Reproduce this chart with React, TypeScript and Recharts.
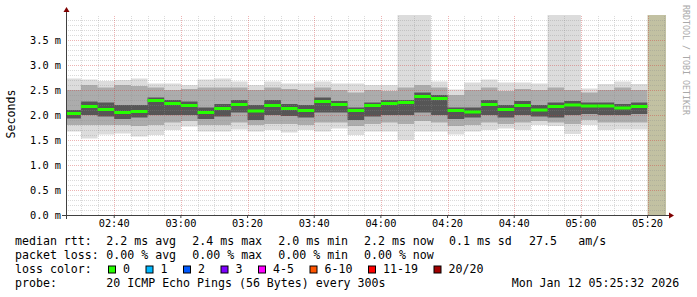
import { ComposedChart, Area, XAxis, YAxis, ReferenceLine, ReferenceArea } from 'recharts';

const FONT = '"DejaVu Sans Mono", monospace';

// 5-minute slots (start of each interval)
const slots = [
  '02:25', '02:30', '02:35', '02:40', '02:45', '02:50', '02:55', '03:00', '03:05', '03:10',
  '03:15', '03:20', '03:25', '03:30', '03:35', '03:40', '03:45', '03:50', '03:55', '04:00',
  '04:05', '04:10', '04:15', '04:20', '04:25', '04:30', '04:35', '04:40', '04:45', '04:50',
  '04:55', '05:00', '05:05', '05:10', '05:15',
];

// median rtt, ms
const median = [
  2.03, 2.17, 2.11, 2.05, 2.07, 2.29, 2.23, 2.19, 2.05, 2.13,
  2.21, 2.08, 2.19, 2.13, 2.09, 2.27, 2.21, 2.09, 2.19, 2.23,
  2.25, 2.37, 2.33, 2.09, 2.06, 2.21, 2.11, 2.19, 2.10, 2.17,
  2.20, 2.18, 2.18, 2.14, 2.17,
];

// smoke: outer / middle / inner ping ranges, ms
const pingMax = [
  2.73, 2.71, 2.68, 2.70, 2.73, 2.63, 2.63, 2.60, 2.71, 2.73,
  2.67, 2.60, 2.67, 2.63, 2.63, 2.67, 2.63, 2.63, 2.60, 2.60,
  4.6, 4.6, 2.67, 2.51, 2.65, 2.71, 2.65, 2.65, 2.63, 4.6,
  4.6, 2.53, 2.62, 2.67, 2.62,
];
const pingHi2 = [
  2.50, 2.60, 2.55, 2.60, 2.58, 2.55, 2.50, 2.52, 2.55, 2.55,
  2.55, 2.50, 2.55, 2.52, 2.50, 2.55, 2.50, 2.45, 2.50, 2.48,
  2.55, 2.60, 2.55, 2.40, 2.50, 2.55, 2.48, 2.52, 2.50, 2.55,
  2.50, 2.45, 2.50, 2.55, 2.50,
];
const pingHi1 = [
  2.10, 2.27, 2.25, 2.20, 2.20, 2.35, 2.30, 2.27, 2.15, 2.22,
  2.30, 2.20, 2.30, 2.22, 2.20, 2.35, 2.28, 2.15, 2.25, 2.30,
  2.30, 2.45, 2.40, 2.15, 2.15, 2.30, 2.20, 2.28, 2.20, 2.25,
  2.28, 2.25, 2.25, 2.22, 2.25,
];
const pingLo1 = [
  1.93, 2.00, 1.97, 1.92, 1.95, 2.00, 2.00, 2.00, 1.92, 1.97,
  2.05, 1.90, 2.00, 1.98, 1.95, 2.05, 2.05, 1.90, 1.97, 2.00,
  2.00, 2.05, 2.00, 1.92, 1.95, 2.00, 1.95, 2.00, 1.97, 1.95,
  2.00, 2.02, 2.00, 2.00, 2.02,
];
const pingLo2 = [
  1.80, 1.80, 1.80, 1.80, 1.78, 1.80, 1.85, 1.88, 1.80, 1.80,
  1.85, 1.80, 1.82, 1.82, 1.80, 1.85, 1.85, 1.78, 1.82, 1.85,
  1.82, 1.88, 1.85, 1.78, 1.80, 1.85, 1.82, 1.85, 1.88, 1.85,
  1.82, 1.90, 1.85, 1.85, 1.85,
];
const pingMin = [
  1.67, 1.53, 1.61, 1.63, 1.57, 1.60, 1.70, 1.77, 1.67, 1.67,
  1.71, 1.67, 1.70, 1.65, 1.70, 1.67, 1.73, 1.60, 1.67, 1.67,
  1.50, 1.67, 1.67, 1.61, 1.67, 1.70, 1.73, 1.70, 1.80, 1.78,
  1.62, 1.80, 1.70, 1.71, 1.71,
];

const yLabels = [0, 0.5, 1.0, 1.5, 2.0, 2.5, 3.0, 3.5];
const xLabels = ['02:40', '03:00', '03:20', '03:40', '04:00', '04:20', '04:40', '05:00', '05:20'];

const rttStats = ['2.2 ms avg', '2.4 ms max', '2.0 ms min', '2.2 ms now', '0.1 ms sd', '27.5', 'am/s'];
const lossStats = ['0.00 % avg', '0.00 % max', '0.00 % min', '0.00 % now'];
const lossLabels = ['0', '1', '2', '3', '4-5', '6-10', '11-19', '20/20'];
const lossColors = ['#26ff00', '#00b8ff', '#0059ff', '#7e00ff', '#ff00ff', '#ff5500', '#ff0000', '#a10000'];
const probeText = '20 ICMP Echo Pings (56 Bytes) every 300s';
const stamp = 'Mon Jan 12 05:25:32 2026';

const toMin = (s: string) => {
  const [h, m] = s.split(':').map(Number);
  return h * 60 + m;
};
const fmt = (m: number) => {
  const h = Math.floor(m / 60);
  const mm = Math.round(m - h * 60);
  return String(h).padStart(2, '0') + ':' + String(mm).padStart(2, '0');
};

const STEP = 5;
const START = toMin('02:25') + 32 / 60;
const END = START + 180;
const NOW = toMin('05:20');

const rows = slots.map((s, i) => ({
  t: toMin(s),
  med: median[i],
  max: pingMax[i],
  hi2: pingHi2[i],
  hi1: pingHi1[i],
  lo1: pingLo1[i],
  lo2: pingLo2[i],
  min: pingMin[i],
}));
const data = [...rows, { ...rows[rows.length - 1], t: rows[rows.length - 1].t + STEP }];

const minorY: number[] = [];
const majorY: number[] = [];
for (let i = 1; i < 40; i++) (i % 5 === 0 ? majorY : minorY).push(i / 10);
const minorX: number[] = [];
const majorX: number[] = [];
for (let m = toMin('02:30'); m < END; m += STEP) (m % 20 === 0 ? majorX : minorX).push(m);

const hLine = (color: string, op: number) => (p: any) => (
  <line x1={p.x1} x2={p.x2} y1={Math.round(p.y1) + 0.5} y2={Math.round(p.y2) + 0.5}
    stroke={color} strokeOpacity={op} strokeDasharray="1 1" />
);
const vLine = (color: string, op: number) => (p: any) => (
  <line x1={Math.round(p.x1) + 0.5} x2={Math.round(p.x2) + 0.5} y1={p.y1} y2={p.y2}
    stroke={color} strokeOpacity={op} strokeDasharray="1 1" />
);

const xAxisShape = (p: any) => {
  const y = Math.round(p.y1) + 0.5;
  const l = Math.min(p.x1, p.x2) - 4;
  const r = Math.max(p.x1, p.x2) + 3;
  return (
    <g>
      <line x1={l} x2={r} y1={y} y2={y} stroke="#404040" />
      <path d={`M${r},${y - 3}L${r + 5},${y}L${r},${y + 3}Z`} fill="#7f0000" />
    </g>
  );
};
const yAxisShape = (p: any) => {
  const x = Math.round(p.x1) + 0.5;
  const b = Math.max(p.y1, p.y2) + 4;
  const t = Math.min(p.y1, p.y2) - 3;
  return (
    <g>
      <line x1={x} x2={x} y1={b} y2={t} stroke="#404040" />
      <path d={`M${x - 3},${t}L${x},${t - 5}L${x + 3},${t}Z`} fill="#7f0000" />
    </g>
  );
};

const tickStyle = { fontFamily: FONT, fontSize: 10.3, fill: '#000' };
const rowY = [245.3, 259.3, 273.3, 287.3];
const statX = [106.3, 192.3, 278.3, 364, 449, 529, 578.3];

function Legend() {
  let bx = 108.5;
  const boxes = lossLabels.map((lab, i) => {
    const x = bx;
    bx = x + 15.5 + lab.length * 7 + 15;
    return (
      <g key={lab}>
        <rect x={x} y={266} width={7} height={7} fill={lossColors[i]} stroke="#000" />
        <text x={x + 14.5} y={rowY[2]}>{lab}</text>
      </g>
    );
  });
  return (
    <svg width={697} height={297} style={{ position: 'absolute', left: 0, top: 0 }}
      fontFamily={FONT} fontSize={11.6} fill="#000">
      <text transform="translate(15,114) rotate(-90)" textAnchor="middle">Seconds</text>
      <text transform="translate(683,5) rotate(90)" fontSize={8.3} fill="#a9a9a9">RRDTOOL / TOBI OETIKER</text>
      <text x={15} y={rowY[0]}>median rtt:</text>
      {rttStats.map((s, i) => (
        <text key={s + i} x={statX[i]} y={rowY[0]}>{s}</text>
      ))}
      <text x={15} y={rowY[1]}>packet loss:</text>
      {lossStats.map((s, i) => (
        <text key={s + i} x={statX[i]} y={rowY[1]}>{s}</text>
      ))}
      <text x={15} y={rowY[2]}>loss color:</text>
      {boxes}
      <text x={15} y={rowY[3]}>probe:</text>
      <text x={106.3} y={rowY[3]}>{probeText}</text>
      <text x={511.7} y={rowY[3]}>{stamp}</text>
    </svg>
  );
}

export default function App() {
  return (
    <div style={{ position: 'absolute', left: 0, top: 0, width: 697, height: 297, background: '#fff' }}>
      <ComposedChart width={697} height={297} data={data}
        margin={{ top: 15, right: 31, bottom: 62, left: 9 }}
        style={{ position: 'absolute', left: 0, top: 0 }}>
        <XAxis type="number" dataKey="t" domain={[START, END]} allowDataOverflow
          ticks={xLabels.map(toMin)} tickFormatter={fmt} interval={0} height={20}
          axisLine={false} tickLine={{ stroke: '#404040' }} tickSize={3} tickMargin={2} tick={tickStyle} />
        <YAxis type="number" domain={[0, 4]} allowDataOverflow ticks={yLabels}
          tickFormatter={(v: number) => v.toFixed(1) + ' m'} interval={0} width={57}
          axisLine={false} tickLine={false} tickSize={0} tickMargin={5} tick={tickStyle} />

        <Area dataKey={(d: any) => [d.min, d.max]} type="stepAfter" stroke="none" fill="#dcdcdc"
          fillOpacity={1} dot={false} activeDot={false} isAnimationActive={false} />
        <Area dataKey={(d: any) => [d.lo2, d.hi2]} type="stepAfter" stroke="none" fill="#acacac"
          fillOpacity={1} dot={false} activeDot={false} isAnimationActive={false} />
        <Area dataKey={(d: any) => [d.lo1, d.hi1]} type="stepAfter" stroke="none" fill="#565656"
          fillOpacity={1} dot={false} activeDot={false} isAnimationActive={false} />

        {minorY.map((v) => (
          <ReferenceLine key={'my' + v} y={v} shape={hLine('#8c8c8c', 0.32)} />
        ))}
        {minorX.map((v) => (
          <ReferenceLine key={'mx' + v} x={v} shape={vLine('#8c8c8c', 0.32)} />
        ))}
        {majorY.map((v) => (
          <ReferenceLine key={'My' + v} y={v} shape={hLine('#d03838', 0.38)} />
        ))}
        {majorX.map((v) => (
          <ReferenceLine key={'Mx' + v} x={v} shape={vLine('#d03838', 0.38)} />
        ))}

        <ReferenceArea x1={NOW} x2={END} y1={0} y2={4} fill="#c2c1a2" fillOpacity={1} stroke="none" ifOverflow="hidden" />

        {rows.map((r) => (
          <ReferenceLine key={'med' + r.t} segment={[{ x: r.t, y: r.med }, { x: r.t + STEP, y: r.med }]}
            stroke="#26ff00" strokeWidth={3} ifOverflow="hidden" />
        ))}

        <ReferenceLine y={0} ifOverflow="visible" shape={xAxisShape} />
        <ReferenceLine x={START} ifOverflow="visible" shape={yAxisShape} />
      </ComposedChart>
      <Legend />
    </div>
  );
}
